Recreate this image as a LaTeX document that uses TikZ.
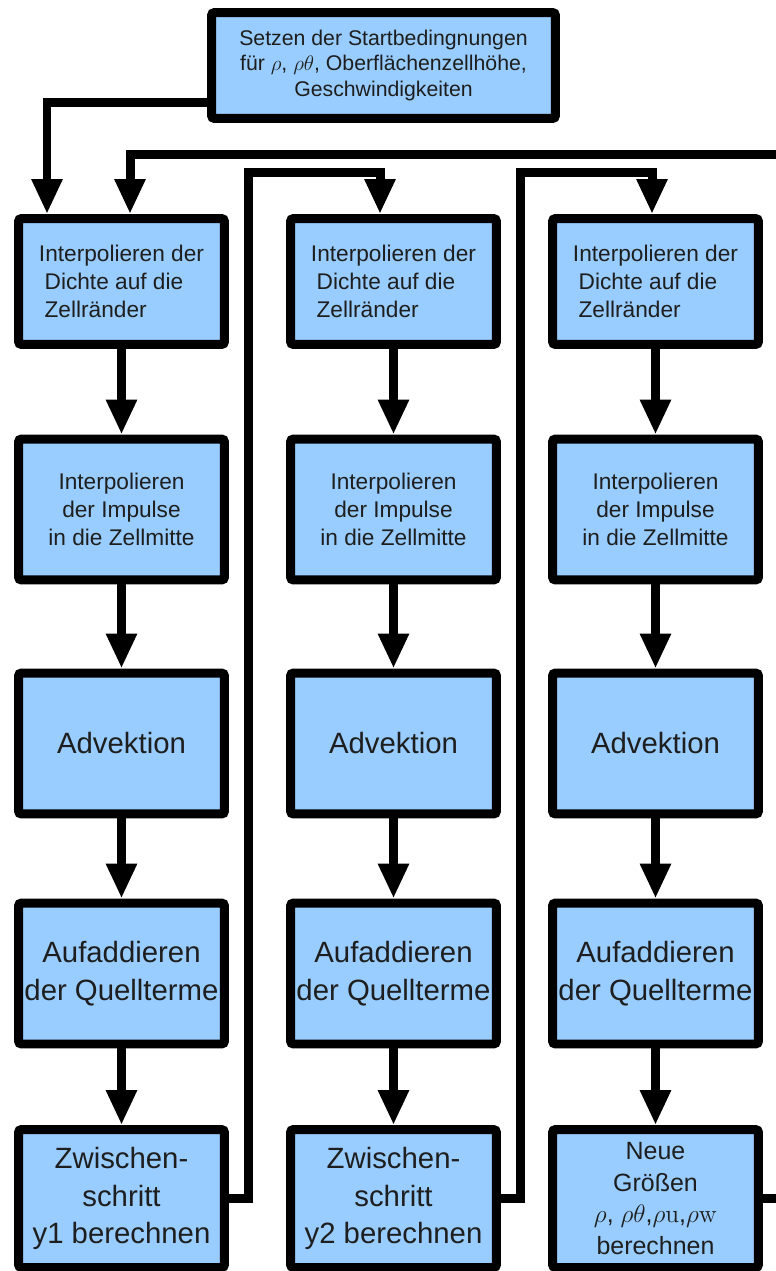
\documentclass[tikz,border=0pt]{standalone}
\usepackage[no-math]{fontspec}
\setmainfont{Liberation Sans}
\usetikzlibrary{arrows.meta, calc}
\definecolor{zellblau}{RGB}{153,204,255}
\definecolor{schrift}{RGB}{30,30,30}
\tikzset{
  kasten/.style={draw=black, line width=0.18cm, fill=zellblau, rounded corners=0.06cm,
    text=schrift, minimum width=4.12cm, minimum height=2.82cm, inner sep=0pt},
  kopftext/.style={font=\fontsize{12.1}{14.5}\selectfont},
  ktext/.style={font=\fontsize{12.9}{15.9}\selectfont},
  gtext/.style={font=\fontsize{16.7}{21.3}\selectfont},
  mtext/.style={font=\fontsize{14.2}{18.1}\selectfont},
  pfeil/.style={line width=0.18cm, -{Triangle[length=0.7cm, width=0.58cm]}},
  linie/.style={line width=0.18cm}
}

\begin{document}
\begin{tikzpicture}[x=0.02cm, y=-0.02cm]
\useasboundingbox (0,0) rectangle (776,1271);
\node[kasten, kopftext, minimum width=6.88cm, minimum height=2.12cm, align=center] (start) at (383.5,65.5)
  {Setzen der Startbedingnungen\\für $\rho$, $\rho\theta$, Oberflächenzellhöhe,\\Geschwindigkeiten};
% drei Spalten, oben gleich
\foreach \c/\x in {1/121.5, 2/393.5, 3/655.5} {
  \node[kasten, ktext, minimum height=2.52cm, align=left] (dichte\c) at (\x,281.5)
    {Interpolieren der\\\hspace*{0.25em}Dichte auf die\\\hspace*{0.25em}Zellränder};
  \node[kasten, ktext, align=center] (impuls\c) at (\x,509.5) {Interpolieren\\der Impulse\\in die Zellmitte};
  \node[kasten, gtext] (advekt\c) at (\x,743.5) {Advektion};
  \node[kasten, gtext, align=center] (quell\c) at (\x,973.5) {Aufaddieren\\der Quellterme};
  \draw[pfeil] (dichte\c) -- (impuls\c);
  \draw[pfeil] (impuls\c) -- (advekt\c);
  \draw[pfeil] (advekt\c) -- (quell\c);
}
\node[kasten, gtext, minimum height=2.76cm, align=center] (schritt1) at (121.5,1198.5) {Zwischen-\\schritt\\y1 berechnen};
\node[kasten, gtext, minimum height=2.76cm, align=center] (schritt2) at (393.5,1198.5) {Zwischen-\\schritt\\y2 berechnen};
\node[kasten, mtext, minimum height=2.76cm, align=center] (neu3) at (655.5,1198.5)
  {Neue\\Größen\\$\rho$, $\rho\theta$,$\rho\mathrm{u}$,$\rho\mathrm{w}$\\berechnen};
\foreach \c/\n in {1/schritt1, 2/schritt2, 3/neu3}
  \draw[pfeil] (quell\c) -- (\n);
% Rueckfuehrungen
\coordinate (rueck) at (776,154);
\coordinate (aus) at (776,1198.5);
\draw[pfeil] (start.west |- 0,102) -| (dichte1.north -| 47,0);
\draw[pfeil] (rueck) -| (dichte1.north -| 130,0);
\draw[pfeil] (schritt1.east) -| (248,172) -| (dichte2.north -| 380,0);
\draw[pfeil] (schritt2.east) -| (520,172) -| (dichte3.north -| 652,0);
\draw[linie] (neu3.east) -- (aus);
\end{tikzpicture}
\end{document}
